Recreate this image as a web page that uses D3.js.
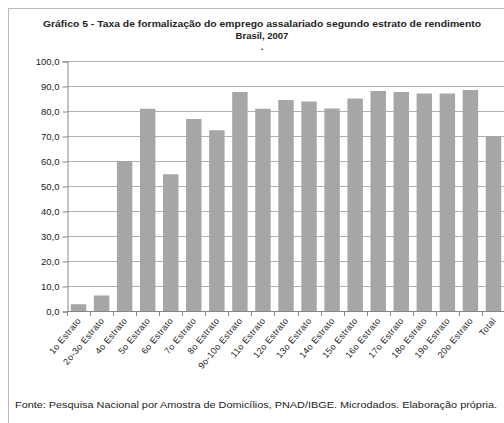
<!DOCTYPE html>
<html>
<head>
<meta charset="utf-8">
<script src="https://cdn.jsdelivr.net/npm/d3@7"></script>
<style>
  body { margin: 0; background: #fff; }
  text { font-family: "Liberation Sans", Arial, sans-serif; fill: #222; }
</style>
</head>
<body>
<svg width="504" height="423"></svg>
<script>
var categories = ["1o Estrato", "2o-3o Estrato", "4o Estrato", "5o Estrato", "6o Estrato",
  "7o Estrato", "8o Estrato", "9o-10o Estrato", "11o Estrato", "12o Estrato", "13o Estrato",
  "14o Estrato", "15o Estrato", "16o Estrato", "17o Estrato", "18o Estrato", "19o Estrato",
  "20o Estrato", "Total"]
var values = [2.7, 6.2, 60.0, 80.9, 54.7, 76.8, 72.3, 87.6, 80.9, 84.4, 83.8,
  81.0, 85.0, 88.0, 87.6, 87.0, 87.0, 88.4, 70.0]
var yTicks = [0, 10, 20, 30, 40, 50, 60, 70, 80, 90, 100]

var svg = d3.select("svg")

// chart frame
svg.append("rect")
  .attr("x", 8.5).attr("y", 8.5)
  .attr("width", 520).attr("height", 430)
  .attr("fill", "none").attr("stroke", "#b8b8b8")

var x = d3.scaleBand()
  .domain(categories)
  .range([67, 505])
  .paddingInner(0.33)
  .paddingOuter(0.165)

var y = d3.scaleLinear()
  .domain([0, 100])
  .range([311, 61])

// gridlines
svg.append("g")
  .selectAll("line")
  .data(yTicks.slice(1))
  .enter()
  .append("line")
  .attr("x1", 67).attr("x2", 505)
  .attr("y1", d => Math.round(y(d)) + 0.5)
  .attr("y2", d => Math.round(y(d)) + 0.5)
  .attr("stroke", "#b0b0b0")

svg.append("g")
  .selectAll("rect")
  .data(values)
  .enter()
  .append("rect")
  .attr("x", (d, i) => x(categories[i]))
  .attr("width", x.bandwidth())
  .attr("y", d => y(d))
  .attr("height", d => y(0) - y(d))
  .attr("fill", "#a6a6a6")

// y axis
var yAxis = svg.append("g")
  .attr("transform", "translate(67.5,0.5)")
  .call(d3.axisLeft(y).tickValues(yTicks).tickSize(5).tickPadding(3)
    .tickFormat(d => d3.format(".1f")(d).replace(".", ",")))
yAxis.selectAll("path, line").attr("stroke", "#868686")
yAxis.selectAll("text")
  .style("font-size", "9.5px")
  .style("font-family", "'Liberation Sans', Arial, sans-serif")
  .attr("fill", "#222")

// x axis line and ticks at band boundaries
var step = x.step()
var bounds = d3.range(categories.length + 1).map(i => 67 + i * step)
svg.append("line")
  .attr("x1", 67).attr("x2", 505)
  .attr("y1", 311.5).attr("y2", 311.5)
  .attr("stroke", "#868686")
svg.append("g")
  .selectAll("line")
  .data(bounds)
  .enter()
  .append("line")
  .attr("x1", d => Math.round(d) + 0.5).attr("x2", d => Math.round(d) + 0.5)
  .attr("y1", 311).attr("y2", 316)
  .attr("stroke", "#868686")

svg.append("g")
  .selectAll("text")
  .data(categories)
  .enter()
  .append("text")
  .attr("transform", d => "translate(" + (x(d) + x.bandwidth() / 2 + 3) + ",321) rotate(-50)")
  .attr("text-anchor", "end")
  .style("font-size", "9px")
  .style("letter-spacing", "0.3px")
  .text(d => d)

// titles
svg.append("text")
  .attr("x", 262).attr("y", 27)
  .attr("text-anchor", "middle")
  .attr("textLength", 438).attr("lengthAdjust", "spacingAndGlyphs")
  .style("font-size", "9.5px").style("font-weight", "bold")
  .text("Gráfico  5 -  Taxa de formalização do emprego assalariado segundo estrato de rendimento")
svg.append("text")
  .attr("x", 262).attr("y", 38.5)
  .attr("text-anchor", "middle")
  .style("font-size", "9.5px").style("font-weight", "bold")
  .text("Brasil, 2007")
svg.append("text")
  .attr("x", 262).attr("y", 50)
  .attr("text-anchor", "middle")
  .style("font-size", "9.5px").style("font-weight", "bold")
  .text(".")

svg.append("text")
  .attr("x", 15).attr("y", 408)
  .attr("textLength", 482).attr("lengthAdjust", "spacingAndGlyphs")
  .style("font-size", "9.5px")
  .text("Fonte: Pesquisa Nacional por Amostra de  Domicílios, PNAD/IBGE. Microdados. Elaboração própria.")
</script>
</body>
</html>
